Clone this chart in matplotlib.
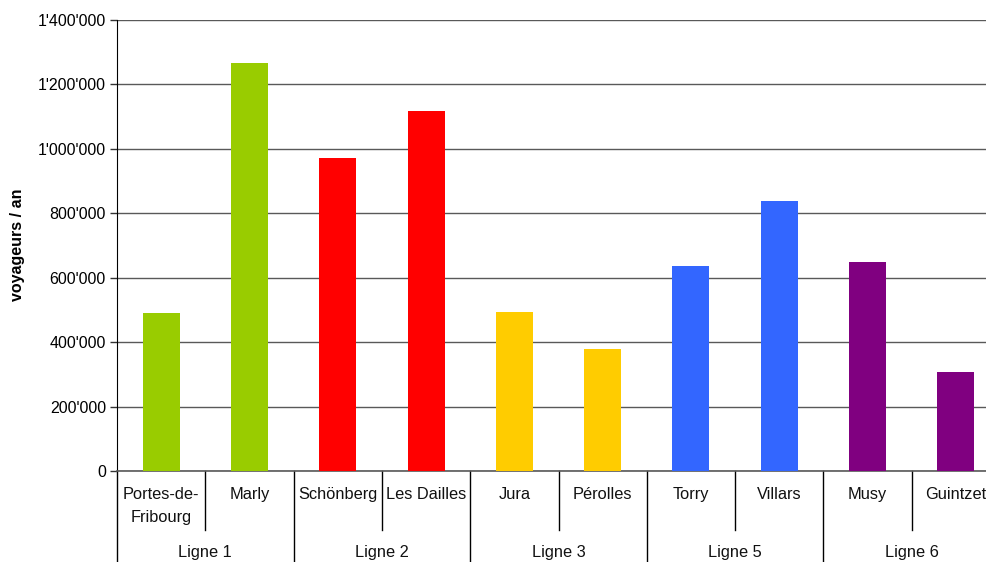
import matplotlib
matplotlib.use("Agg")
import matplotlib.pyplot as plt
from matplotlib.ticker import FuncFormatter, MultipleLocator
import matplotlib.transforms as mtransforms

plt.rcParams['font.family'] = ['Liberation Sans', 'DejaVu Sans']

stations = ["Portes-de-\nFribourg", "Marly", "Schönberg", "Les Dailles", "Jura",
            "Pérolles", "Torry", "Villars", "Musy", "Guintzet"]
voyageurs = [490000, 1265000, 973000, 1118000, 494000, 379000, 637000, 839000, 649000, 307000]
lignes = ["Ligne 1", "Ligne 2", "Ligne 3", "Ligne 5", "Ligne 6"]
ligne_colors = ["#99CC00", "#FF0000", "#FFCC00", "#3366FF", "#800080"]
stations_per_ligne = [2, 2, 2, 2, 2]

bar_colors = []
for c, n in zip(ligne_colors, stations_per_ligne):
    bar_colors += [c] * n

fig = plt.figure(figsize=(9.87, 5.62), dpi=100)
W, H = 987, 562
ax = fig.add_axes([117 / W, (H - 471) / H, 883 / W, 451 / H])

x = [i + 0.5 for i in range(len(stations))]
ax.bar(x, voyageurs, width=0.42, color=bar_colors, zorder=3)

ax.set_xlim(0, len(stations))
ax.set_ylim(0, 1400000)
ax.yaxis.set_major_locator(MultipleLocator(200000))
ax.yaxis.set_major_formatter(FuncFormatter(lambda v, p: f"{v:,.0f}".replace(",", "'")))
ax.grid(axis='y', color='#595959', linewidth=1, zorder=0)
ax.set_xticks([])
for s in ['top', 'right']:
    ax.spines[s].set_visible(False)
ax.spines['left'].set_color('black')
ax.spines['bottom'].set_color('#595959')
ax.spines['bottom'].set_linewidth(1.2)
ax.tick_params(axis='y', length=5, width=1, color='#333333', labelsize=11.5, pad=3)

trans = mtransforms.blended_transform_factory(ax.transData, ax.transAxes)

short_len = 59 / 451
long_len = 91 / 451

# separators
boundaries = [0]
acc = 0
for n in stations_per_ligne:
    acc += n
    boundaries.append(acc)
for i in range(len(stations) + 1):
    ylen = long_len if i in boundaries else short_len
    ax.plot([i, i], [0, -ylen], transform=trans, color='black', lw=1, clip_on=False)

# category labels
for xi, s in zip(x, stations):
    ax.text(xi, -16 / 451, s, transform=trans, ha='center', va='top', fontsize=11.8,
            linespacing=1.65, color='#111111')

# group labels
start = 0
for lab, n in zip(lignes, stations_per_ligne):
    ax.text(start + n / 2, -82 / 451, lab, transform=trans, ha='center', va='center',
            fontsize=11.8, color='#111111')
    start += n

fig.text(18 / W, (H - 245) / H, "voyageurs / an", rotation=90, ha='center', va='center',
         fontsize=11.5, fontweight='bold')

fig.savefig("out.png", dpi=100)
